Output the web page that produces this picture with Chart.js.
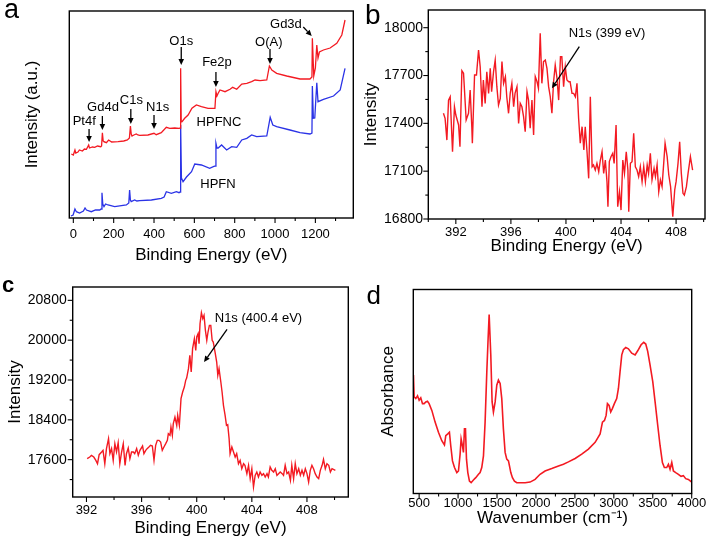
<!DOCTYPE html>
<html>
<head>
<meta charset="utf-8">
<script src="https://cdn.jsdelivr.net/npm/chart.js@4.4.1/dist/chart.umd.min.js"></script>
<style>
  body { margin: 0; background: #fff; }
  #fig { position: relative; width: 709px; height: 542px; background: #fff; font-family: 'Liberation Sans', Arial, sans-serif; overflow: hidden; }
  canvas { position: absolute; }
  .tag { position: absolute; line-height: 1; color: #000; }
</style>
</head>
<body>
<div id="fig">
  <canvas id="chartA" width="355" height="270" style="left:0;top:0"></canvas>
  <canvas id="chartB" width="354" height="270" style="left:355px;top:0"></canvas>
  <canvas id="chartC" width="355" height="270" style="left:0;top:272px"></canvas>
  <canvas id="chartD" width="354" height="270" style="left:355px;top:272px"></canvas>
  <div class="tag" style="left:4px;top:-3.6px;font-size:27px">a</div>
  <div class="tag" style="left:365px;top:1.3px;font-size:28px">b</div>
  <div class="tag" style="left:2px;top:274px;font-size:22px;font-weight:bold">c</div>
  <div class="tag" style="left:366.5px;top:281.7px;font-size:26px">d</div>
</div>
<script>
// panel a: XPS survey (arbitrary intensity)
const aRedEnergy = [-10, 0, 8, 12, 23, 30, 45, 55, 65, 76, 80, 95, 106, 120, 136, 140, 144, 148, 152, 164,
  175, 190, 222, 250, 268, 278, 283, 287, 291, 300, 312, 320, 329, 370, 400, 411, 436, 461, 478, 503,
  524, 530, 532, 535, 539, 552, 569, 588, 610, 635, 668, 702, 707, 712, 718, 727, 752, 777, 790, 810,
  835, 860, 884, 901, 926, 959, 972, 984, 1008, 1058, 1124, 1173, 1183, 1185, 1192, 1200, 1207, 1213, 1220, 1240,
  1273, 1306, 1331, 1347];
const aRedSignal = [64, 63, 68, 65, 66, 68, 67, 69, 68.7, 73, 70, 71, 70.7, 72, 71.3, 72, 85.3, 77, 76.3, 75.3,
  78, 76, 76.3, 77, 78, 80, 92, 84, 82, 83, 84, 83, 82.7, 83, 84.7, 83.3, 85.3, 90.7, 89.7, 90,
  89.7, 90, 149.7, 96, 96.3, 99.7, 103, 109.7, 113, 111.3, 109.7, 109.7, 126.3, 122, 124.7, 128, 126.3, 128.7, 130.7, 128.7,
  134, 134.7, 136.3, 138, 137.3, 138, 152, 148, 144.7, 142, 139, 139, 141, 179.7, 142, 150, 173, 160, 166, 168,
  170, 174.7, 183, 198];
const aBlueEnergy = [-12, -1, 8, 15, 31, 50, 58, 65, 89, 110, 131, 138, 142, 146, 152, 160, 172, 205, 263, 275,
  279, 283, 287, 304, 315, 329, 387, 436, 450, 461, 486, 511, 524, 529, 532, 536, 544, 561, 586, 602,
  635, 676, 694, 705, 707, 712, 718, 735, 760, 785, 810, 835, 860, 884, 909, 959, 976, 989, 1008, 1074,
  1124, 1173, 1183, 1185, 1190, 1197, 1207, 1213, 1217, 1240, 1290, 1323, 1347];
const aBlueSignal = [2, 3, 9, 6.3, 5, 7, 10, 8, 6.3, 8, 8, 9, 25.3, 14, 11.3, 14, 13, 11.3, 13, 15,
  28, 18, 16.3, 18, 17, 17.3, 18, 19.7, 21, 26.3, 24.7, 26.3, 25.3, 26, 93, 40, 36.3, 41, 46.3, 54,
  53, 49.7, 51.3, 52, 74.7, 70, 70, 73, 68, 71.3, 70.7, 78, 79.7, 83, 81.3, 82, 100.7, 93, 91.3, 88,
  85.3, 84, 85, 132, 99.7, 100, 135.3, 116.3, 116.3, 118.7, 122, 128, 149.7];
const aTicksX = [0, 200, 400, 600, 800, 1000, 1200];
const aLabels = [
  { text: 'Pt4f', x: 54, y: 97 }, { text: 'Gd4d', x: 147, y: 111 }, { text: 'C1s', x: 288, y: 118 },
  { text: 'N1s', x: 418, y: 111 }, { text: 'O1s', x: 535, y: 177 }, { text: 'Fe2p', x: 712, y: 156 },
  { text: 'O(A)', x: 969, y: 176 }, { text: 'Gd3d', x: 1054, y: 194 },
  { text: 'HPFNC', x: 722, y: 96 }, { text: 'HPFN', x: 717, y: 34 },
];
const aArrows = [
  { x1: 78, y1: 89, x2: 78, y2: 76 }, { x1: 144, y1: 102, x2: 144, y2: 88 }, { x1: 285, y1: 109, x2: 285, y2: 94 },
  { x1: 400, y1: 103, x2: 400, y2: 89 }, { x1: 535, y1: 171, x2: 535, y2: 153 }, { x1: 707, y1: 146, x2: 707, y2: 131 },
  { x1: 975, y1: 169, x2: 975, y2: 154 }, { x1: 1140, y1: 191, x2: 1182, y2: 182 },
];

// panel b: N1s, HPFN
const bEnergy = [391.1, 391.22, 391.35, 391.47, 391.59, 391.76, 391.9, 392.0, 392.2, 392.3,
  392.44, 392.56, 392.75, 392.92, 393.04, 393.16, 393.2, 393.36, 393.5, 393.65,
  393.77, 393.9, 394.0, 394.13, 394.25, 394.38, 394.5, 394.6, 394.74, 394.86,
  394.98, 395.1, 395.23, 395.35, 395.47, 395.6, 395.7, 395.83, 395.95, 396.07,
  396.2, 396.3, 396.44, 396.56, 396.68, 396.8, 396.92, 397.04, 397.17, 397.28,
  397.4, 397.53, 397.65, 397.77, 397.9, 398.0, 398.13, 398.25, 398.37, 398.5,
  398.62, 398.74, 398.86, 398.98, 399.1, 399.22, 399.35, 399.47, 399.6, 399.7,
  399.83, 399.95, 400.07, 400.2, 400.3, 400.44, 400.56, 400.68, 400.8, 400.92,
  401.04, 401.17, 401.3, 401.4, 401.53, 401.65, 401.77, 401.9, 402.0, 402.13,
  402.25, 402.38, 402.5, 402.62, 402.74, 402.86, 402.98, 403.05, 403.15, 403.27,
  403.4, 403.5, 403.64, 403.76, 403.89, 404.0, 404.13, 404.25, 404.38, 404.5,
  404.56, 404.68, 404.8, 404.92, 405.04, 405.16, 405.28, 405.4, 405.53, 405.65,
  405.77, 405.9, 406.0, 406.13, 406.25, 406.4, 406.5, 406.62, 406.74, 406.86,
  406.98, 407.1, 407.2, 407.35, 407.47, 407.6, 407.76, 407.9, 408.0, 408.14,
  408.26, 408.38, 408.5, 408.6, 408.75, 408.87, 409.04, 409.2];
const bIntensity = [17463, 17431, 17295, 17546, 17567, 17222, 17504, 17452, 17390, 17254,
  17730, 17714, 17421, 17463, 17609, 17379, 17275, 17703, 17703, 17860,
  17755, 17504, 17672, 17525, 17724, 17588, 17745, 17599, 17724, 17797,
  17630, 17515, 17557, 17787, 17651, 17693, 17567, 17463, 17588, 17651,
  17504, 17588, 17630, 17400, 17525, 17504, 17442, 17348, 17599, 17546,
  17369, 17546, 17327, 17693, 17661, 17620, 17965, 17651, 17787, 17797,
  17745, 17630, 17567, 17463, 17661, 17766, 17682, 17546, 17818, 17818,
  17630, 17755, 17672, 17661, 17661, 17588, 17588, 17567, 17651, 17431,
  17275, 17379, 17233, 17379, 17222, 17055, 17567, 17128, 17139, 17107,
  17149, 17097, 17170, 17222, 17086, 17170, 17034, 16877, 17160, 17191,
  17212, 17149, 17390, 16877, 16971, 16856, 17170, 17086, 17222, 17107,
  16846, 17149, 17160, 17337, 17128, 17107, 17066, 17128, 17034, 17128,
  17034, 17139, 17086, 17212, 17045, 17118, 17066, 17139, 16971, 17045,
  17003, 17149, 17275, 17191, 17076, 17003, 16815, 16982, 17034, 17149,
  17285, 17086, 16961, 16950, 17003, 17086, 17191, 17107];
const bTicksX = [392, 396, 400, 404, 408];
const bTicksY = [16800, 17100, 17400, 17700, 18000];
const bLabels = [{ text: 'N1s (399 eV)', x: 402.98, y: 17965 }];
const bArrows = [{ x1: 400.97, y1: 17881, x2: 398.98, y2: 17620 }];

// panel c: N1s, HPFNC
const cEnergy = [392.05, 392.24, 392.36, 392.53, 392.68, 392.8, 392.92, 393.1, 393.2, 393.33,
  393.45, 393.6, 393.7, 393.82, 393.94, 394.06, 394.18, 394.3, 394.42, 394.55,
  394.67, 394.8, 394.9, 395.03, 395.15, 395.27, 395.4, 395.5, 395.64, 395.76,
  395.88, 396.07, 396.17, 396.3, 396.4, 396.53, 396.65, 396.78, 396.9, 397.02,
  397.14, 397.26, 397.38, 397.5, 397.62, 397.75, 397.87, 397.94, 398.06, 398.13,
  398.23, 398.3, 398.42, 398.55, 398.62, 398.74, 398.86, 398.98, 399.1, 399.2,
  399.27, 399.4, 399.5, 399.6, 399.7, 399.83, 399.93, 400.0, 400.1, 400.17,
  400.24, 400.34, 400.44, 400.53, 400.63, 400.73, 400.82, 400.92, 401.02, 401.12,
  401.2, 401.33, 401.45, 401.53, 401.62, 401.75, 401.84, 401.94, 402.06, 402.16,
  402.25, 402.35, 402.42, 402.55, 402.67, 402.79, 402.9, 403.03, 403.15, 403.27,
  403.4, 403.5, 403.64, 403.76, 403.88, 404.0, 404.12, 404.24, 404.36, 404.48,
  404.6, 404.73, 404.85, 404.97, 405.1, 405.2, 405.33, 405.45, 405.58, 405.7,
  405.82, 405.94, 406.06, 406.2, 406.3, 406.42, 406.55, 406.67, 406.8, 406.9,
  407.03, 407.15, 407.27, 407.4, 407.52, 407.64, 407.76, 407.88, 408.0, 408.12,
  408.24, 408.36, 408.48, 408.6, 408.73, 408.85, 408.97, 409.1, 409.2, 409.33,
  409.45, 409.58, 409.7, 409.82, 410.06];
const cIntensity = [17620, 17653, 17687, 17653, 17586, 17519, 17700, 17754, 17787, 17519,
  17821, 18022, 17720, 17821, 17586, 17921, 17754, 17941, 17519, 17754,
  17921, 17486, 17720, 17834, 17620, 17754, 17754, 17720, 17821, 17687,
  17787, 17874, 17720, 17787, 17821, 17854, 17888, 17874, 17586, 17888,
  17988, 17988, 17955, 17787, 17854, 17921, 17988, 18122, 18089, 18256,
  18089, 18323, 18457, 18289, 18490, 18289, 18825, 18959, 19059, 19193,
  19240, 19428, 19695, 19361, 19829, 20030, 19796, 20064, 20131, 19930,
  20331, 20552, 20432, 20499, 20197, 19997, 20164, 20298, 20298, 19997,
  19963, 19762, 19561, 19294, 19428, 19160, 18959, 18691, 18490, 18289,
  18303, 18022, 17720, 17854, 17754, 17653, 17720, 17519, 17586, 17419,
  17519, 17486, 17319, 17486, 17218, 17419, 17051, 17285, 17352, 17252,
  17352, 17285, 17319, 17252, 17319, 17252, 17453, 17386, 17352, 17419,
  17285, 17319, 17352, 17319, 17285, 17486, 17319, 17352, 17185, 17486,
  17218, 17519, 17319, 17419, 17285, 17386, 17285, 17419, 17319, 17151,
  17386, 17486, 17419, 17319, 17252, 17218, 17386, 17486, 17607, 17419,
  17519, 17486, 17352, 17419, 17386];
const cTicksX = [392, 396, 400, 404, 408];
const cTicksY = [17600, 18400, 19200, 20000, 20800];
const cLabels = [{ text: 'N1s (400.4 eV)', x: 404.48, y: 20431 }];
const cArrows = [{ x1: 402.2, y1: 20218, x2: 400.53, y2: 19561 }];

// panel d: FTIR (arbitrary absorbance)
const dWavenumber = [427, 436, 457, 479, 500, 521, 543, 564, 586, 607, 628, 663, 705, 748, 791, 825, 842, 868, 889, 906,
  928, 954, 984, 1005, 1026, 1039, 1056, 1069, 1082, 1095, 1108, 1125, 1146, 1168, 1197, 1227, 1262, 1283, 1304, 1326,
  1347, 1369, 1386, 1399, 1407, 1420, 1437, 1454, 1476, 1497, 1518, 1540, 1561, 1582, 1604, 1625, 1647, 1660, 1677, 1698,
  1724, 1754, 1797, 1861, 1925, 1989, 2053, 2117, 2203, 2289, 2353, 2417, 2503, 2588, 2674, 2760, 2824, 2854, 2880, 2901,
  2918, 2939, 2960, 2981, 3007, 3037, 3059, 3080, 3102, 3123, 3153, 3187, 3230, 3273, 3307, 3350, 3384, 3410, 3435, 3465,
  3500, 3530, 3564, 3594, 3624, 3649, 3679, 3701, 3722, 3744, 3765, 3795, 3829, 3863, 3893, 3923, 3957, 4000];
const dAbsorbance = [117.3, 95.7, 94, 96.7, 92.3, 94.7, 89, 89, 90.7, 91.3, 89, 82.3, 70.7, 60.7, 52.3, 48, 57.3, 59, 60.7, 47.3,
  32.3, 25.7, 20.7, 22.3, 39, 54, 47.3, 40.7, 64, 64, 34, 20.7, 12.3, 10.7, 13.3, 15.7, 19, 20.7, 25.7, 37.3,
  70.7, 120.7, 154, 177.3, 177.3, 137.3, 90.7, 80.7, 90.7, 107.3, 112.3, 109, 94, 64, 40.7, 34, 32.3, 27.3, 20.7, 15.7,
  12.3, 10.7, 10.7, 10.7, 11.3, 14, 19, 22.3, 24.7, 27.3, 29, 31.3, 34.7, 39, 44, 50.7, 59, 70.7, 72.3, 77.3,
  89, 87.3, 80.7, 84, 89, 94, 104, 120.7, 137.3, 142.3, 144.7, 143.3, 139, 137.3, 141.3, 147.3, 149.7, 148, 140.7, 127.3,
  110.7, 90.7, 67.3, 47.3, 30.7, 25.7, 25.7, 29, 24, 30.7, 22.3, 20.7, 19, 17, 17.7, 14.7, 14, 11.3];
const dTicksX = [500, 1000, 1500, 2000, 2500, 3000, 3500, 4000];

const RED = '#f31a22';
const BLUE = '#2b33e6';
const FONT = "'Liberation Sans', Arial, sans-serif";

Chart.defaults.font.family = FONT;
Chart.defaults.color = '#000';

// box round the plot + outward major/minor tick marks
const framePlugin = {
  id: 'frame',
  afterDraw(chart, args, opts) {
    const { ctx, chartArea: a, scales } = chart;
    ctx.save();
    ctx.strokeStyle = '#000';
    ctx.lineWidth = 1.4;
    ctx.strokeRect(a.left, a.top, a.right - a.left, a.bottom - a.top);
    ctx.lineWidth = 1.1;
    const marks = (scale, majors, horizontal) => {
      if (!majors || majors.length < 2) return;
      const step = majors[1] - majors[0];
      const minors = [majors[0] - step / 2].concat(majors.map(v => v + step / 2))
        .filter(v => v >= scale.min && v <= scale.max);
      const draw = (v, len) => {
        const p = scale.getPixelForValue(v);
        ctx.beginPath();
        if (horizontal) { ctx.moveTo(p, a.bottom); ctx.lineTo(p, a.bottom + len); }
        else { ctx.moveTo(a.left, p); ctx.lineTo(a.left - len, p); }
        ctx.stroke();
      };
      majors.forEach(v => draw(v, 5));
      minors.forEach(v => draw(v, 3));
    };
    marks(scales.x, opts.x, true);
    marks(scales.y, opts.y, false);
    ctx.restore();
  }
};

// text labels and arrows, placed in data units
const notesPlugin = {
  id: 'notes',
  afterDraw(chart, args, opts) {
    const { ctx, scales: { x, y } } = chart;
    ctx.save();
    ctx.fillStyle = '#000';
    ctx.strokeStyle = '#000';
    ctx.font = '13px ' + FONT;
    ctx.textAlign = 'center';
    ctx.textBaseline = 'middle';
    (opts.labels || []).forEach(l => ctx.fillText(l.text, x.getPixelForValue(l.x), y.getPixelForValue(l.y)));
    ctx.lineWidth = 1.3;
    (opts.arrows || []).forEach(r => {
      const x1 = x.getPixelForValue(r.x1), y1 = y.getPixelForValue(r.y1);
      const x2 = x.getPixelForValue(r.x2), y2 = y.getPixelForValue(r.y2);
      const ang = Math.atan2(y2 - y1, x2 - x1);
      const hl = 6, hw = 2.8;
      const bx = x2 - hl * Math.cos(ang), by = y2 - hl * Math.sin(ang);
      ctx.beginPath();
      ctx.moveTo(x1, y1);
      ctx.lineTo(bx, by);
      ctx.stroke();
      ctx.beginPath();
      ctx.moveTo(x2, y2);
      ctx.lineTo(bx + hw * Math.sin(ang), by - hw * Math.cos(ang));
      ctx.lineTo(bx - hw * Math.sin(ang), by + hw * Math.cos(ang));
      ctx.closePath();
      ctx.fill();
    });
    ctx.restore();
  }
};

Chart.register(framePlugin, notesPlugin);

const zip = (xs, ys) => xs.map((v, i) => ({ x: v, y: ys[i] }));

function line(xs, ys, color, width) {
  return {
    data: zip(xs, ys),
    borderColor: color,
    borderWidth: width,
    pointRadius: 0,
    tension: 0,
    fill: false,
  };
}

function xAxis(min, max, ticks, title, height, tickPad, titlePad) {
  return {
    type: 'linear',
    min: min,
    max: max,
    grid: { display: false, drawTicks: false },
    border: { display: false },
    ticks: { padding: tickPad, font: { size: 13 }, color: '#000', autoSkip: false, maxRotation: 0, callback: v => String(v) },
    afterBuildTicks: s => { s.ticks = ticks.map(v => ({ value: v })); },
    afterFit: s => { s.height = height; s.paddingLeft = 0; s.paddingRight = 0; },
    title: { display: true, text: title, font: { size: 17 }, color: '#000', padding: { top: 0, bottom: titlePad } },
  };
}

function yAxis(min, max, ticks, title, width, tickPad, titlePad) {
  const axis = {
    type: 'linear',
    min: min,
    max: max,
    grid: { display: false, drawTicks: false },
    border: { display: false },
    ticks: { display: ticks.length > 0, padding: tickPad, font: { size: 14 }, color: '#000', autoSkip: false, callback: v => String(v) },
    afterFit: s => { s.width = width; s.paddingTop = 0; s.paddingBottom = 0; },
    title: { display: true, text: title, font: { size: 17 }, color: '#000', padding: { top: titlePad, bottom: 0 } },
  };
  if (ticks.length) axis.afterBuildTicks = s => { s.ticks = ticks.map(v => ({ value: v })); };
  return axis;
}

function makeChart(id, datasets, scales, pad, frame, notes) {
  return new Chart(document.getElementById(id), {
    type: 'line',
    data: { datasets: datasets },
    options: {
      responsive: false,
      animation: false,
      layout: { padding: pad },
      scales: scales,
      plugins: {
        legend: { display: false },
        tooltip: { enabled: false },
        frame: frame,
        notes: notes,
      },
    },
  });
}

makeChart('chartA',
  [line(aRedEnergy, aRedSignal, RED, 1.3), line(aBlueEnergy, aBlueSignal, BLUE, 1.3)],
  {
    x: xAxis(-20, 1388, aTicksX, 'Binding Energy (eV)', 52, 8.5, 4.8),
    y: yAxis(0, 207, [], 'Intensity (a.u.)', 69.3, 0, 21.8),
  },
  { top: 11, right: 1.7, bottom: 0, left: 0 },
  { x: aTicksX, y: [] },
  { labels: aLabels, arrows: aArrows });

makeChart('chartB',
  [line(bEnergy, bIntensity, RED, 1.4)],
  {
    x: xAxis(390, 410.1, bTicksX, 'Binding Energy (eV)', 51, 5.5, 13.1),
    y: yAxis(16800, 18111, bTicksY, 'Intensity', 73.3, 5.3, 6.5),
  },
  { top: 10, right: 4, bottom: 0, left: 0 },
  { x: bTicksX, y: bTicksY },
  { labels: bLabels, arrows: bArrows });

makeChart('chartC',
  [line(cEnergy, cIntensity, RED, 1.4)],
  {
    x: xAxis(391, 411, cTicksX, 'Binding Energy (eV)', 45, 5.2, 3.1),
    y: yAxis(16850, 21068, cTicksY, 'Intensity', 72.7, 6, 4.8),
  },
  { top: 15, right: 6.7, bottom: 0, left: 0 },
  { x: cTicksX, y: cTicksY },
  { labels: cLabels, arrows: cArrows });

makeChart('chartD',
  [line(dWavenumber, dAbsorbance, RED, 1.6)],
  {
    x: xAxis(425, 4000, dTicksX, 'Wavenumber (cm\u207B\u00B9)', 48.5, 2.2, 13.1),
    y: yAxis(0, 202, [], 'Absorbance', 58.3, 0, 23.1),
  },
  { top: 17.5, right: 17.3, bottom: 0, left: 0 },
  { x: dTicksX, y: [] },
  { labels: [], arrows: [] });
</script>
</body>
</html>
